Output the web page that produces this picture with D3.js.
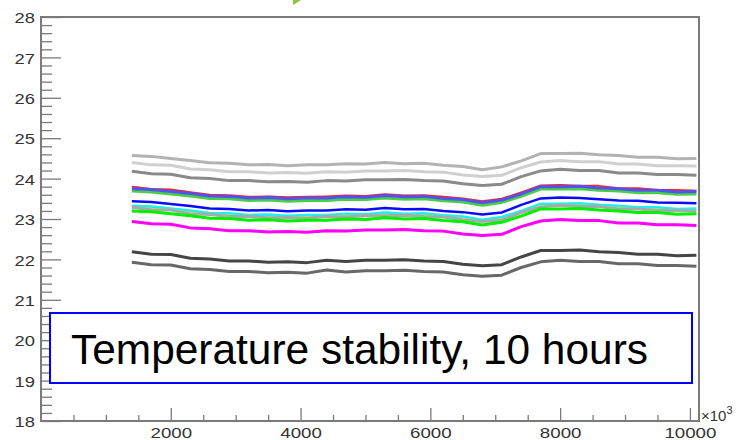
<!DOCTYPE html>
<html><head><meta charset="utf-8">
<script src="https://cdn.jsdelivr.net/npm/d3@7"></script>
<style>
html,body{margin:0;padding:0;background:#fff;}
svg{display:block;font-family:"Liberation Sans",Arial,Helvetica,sans-serif;}
</style></head>
<body><svg id="c" width="742" height="440"></svg>
<script>
// time axis (seconds), shown with a x10^3 multiplier
const timeX = [1400,1700,2000,2300,2600,2900,3200,3500,3800,4100,4400,4700,5000,5300,5600,5900,6200,6500,6800,7100,7400,7700,8000,8300,8600,8900,9200,9500,9800,10100];

const sLightGray = [24.57,24.55,24.50,24.45,24.39,24.38,24.34,24.35,24.32,24.34,24.34,24.37,24.36,24.40,24.37,24.38,24.33,24.30,24.22,24.29,24.44,24.62,24.62,24.63,24.59,24.57,24.53,24.53,24.49,24.50];
const sPaleGray  = [24.40,24.34,24.33,24.24,24.22,24.17,24.17,24.14,24.15,24.13,24.17,24.16,24.19,24.19,24.20,24.17,24.16,24.09,24.05,24.08,24.27,24.41,24.45,24.42,24.42,24.36,24.36,24.32,24.32,24.31];
const sMidGray   = [24.18,24.12,24.11,24.02,24.00,23.95,23.95,23.92,23.93,23.91,23.95,23.94,23.97,23.97,23.98,23.95,23.94,23.87,23.83,23.86,24.05,24.19,24.23,24.20,24.20,24.14,24.14,24.10,24.10,24.08];
const sRed       = [23.80,23.74,23.73,23.66,23.60,23.59,23.55,23.56,23.54,23.55,23.56,23.58,23.57,23.61,23.58,23.59,23.55,23.51,23.44,23.50,23.66,23.83,23.84,23.82,23.82,23.76,23.76,23.72,23.72,23.70];
const sGreenA    = [23.69,23.67,23.62,23.57,23.51,23.50,23.46,23.47,23.44,23.46,23.46,23.49,23.48,23.52,23.49,23.50,23.45,23.42,23.34,23.41,23.56,23.74,23.74,23.75,23.71,23.69,23.65,23.65,23.61,23.62];
const sViolet    = [23.75,23.73,23.68,23.63,23.57,23.56,23.52,23.53,23.50,23.52,23.52,23.55,23.54,23.58,23.55,23.56,23.51,23.48,23.40,23.47,23.62,23.80,23.80,23.81,23.77,23.75,23.71,23.71,23.67,23.68];
const sBlue      = [23.44,23.42,23.37,23.32,23.26,23.25,23.21,23.22,23.19,23.21,23.21,23.24,23.23,23.27,23.24,23.25,23.20,23.17,23.11,23.16,23.35,23.51,23.53,23.52,23.49,23.46,23.45,23.41,23.40,23.39];
const sYellow    = [23.31,23.29,23.24,23.19,23.13,23.12,23.08,23.09,23.06,23.08,23.08,23.11,23.10,23.14,23.11,23.12,23.07,23.04,22.96,23.03,23.18,23.36,23.36,23.37,23.33,23.31,23.27,23.27,23.23,23.24];
const sCyan      = [23.33,23.31,23.26,23.21,23.15,23.14,23.10,23.11,23.08,23.10,23.10,23.13,23.12,23.16,23.13,23.14,23.09,23.06,22.98,23.05,23.20,23.38,23.38,23.39,23.35,23.33,23.29,23.29,23.25,23.26];
const sGrayB     = [23.29,23.23,23.22,23.13,23.11,23.06,23.06,23.03,23.04,23.02,23.06,23.05,23.08,23.08,23.09,23.06,23.05,22.98,22.94,22.97,23.16,23.30,23.34,23.31,23.31,23.25,23.25,23.21,23.21,23.19];
const sGreenB    = [23.20,23.18,23.13,23.08,23.02,23.01,22.97,22.98,22.95,22.97,22.97,23.00,22.99,23.03,23.00,23.01,22.96,22.93,22.85,22.92,23.07,23.25,23.25,23.26,23.22,23.20,23.16,23.16,23.12,23.13];
const sMagenta   = [22.94,22.88,22.87,22.78,22.76,22.71,22.71,22.68,22.69,22.67,22.71,22.70,22.73,22.73,22.74,22.71,22.70,22.63,22.59,22.62,22.81,22.95,22.99,22.96,22.96,22.90,22.90,22.86,22.86,22.84];
const sDarkA     = [22.19,22.13,22.12,22.03,22.01,21.96,21.96,21.93,21.94,21.92,21.98,21.95,21.98,21.98,21.99,21.96,21.95,21.88,21.84,21.87,22.06,22.22,22.22,22.23,22.19,22.17,22.13,22.13,22.09,22.10];
const sDarkB     = [21.93,21.87,21.86,21.77,21.75,21.70,21.70,21.67,21.68,21.66,21.74,21.69,21.72,21.72,21.73,21.70,21.69,21.62,21.58,21.61,21.80,21.94,21.98,21.95,21.95,21.89,21.89,21.85,21.85,21.83];

const seriesList = [
  {v: sLightGray, c: "#b3b3b3", w: 3},
  {v: sPaleGray,  c: "#d0d0d0", w: 3},
  {v: sMidGray,   c: "#8a8a8a", w: 3},
  {v: sRed,       c: "#ff2020", w: 2},
  {v: sGreenA,    c: "#45d045", w: 3},
  {v: sViolet,    c: "#5252ee", w: 3},
  {v: sBlue,      c: "#0a0aff", w: 2.5},
  {v: sYellow,    c: "#f2f200", w: 2.5},
  {v: sCyan,      c: "#22eeee", w: 2.5},
  {v: sGrayB,     c: "#a9a9a9", w: 3},
  {v: sGreenB,    c: "#00f000", w: 3},
  {v: sMagenta,   c: "#ff00ff", w: 3},
  {v: sDarkA,     c: "#454545", w: 3},
  {v: sDarkB,     c: "#686868", w: 3}
];

const xMajorTicks = [2000,4000,6000,8000,10000];
const yMajorTicks = [18,19,20,21,22,23,24,25,26,27,28];
const titleText = "Temperature stability, 10 hours";

const svg = d3.select("#c");
const L = 41, R = 699, T = 17, B = 421;
const x = d3.scaleLinear().domain([0, 10140]).range([L, R]);
const y = d3.scaleLinear().domain([18, 28]).range([B, T]);
const axisColor = "#7a7a7a";

svg.append("rect").attr("width",742).attr("height",440).attr("fill","#fff");

// small green arrow tip at the top (cut off)
svg.append("polygon").attr("points","293,0 301,0 293,5").attr("fill","#8cc63f");

svg.append("clipPath").attr("id","clip").append("rect")
  .attr("x",L).attr("y",T).attr("width",R-L).attr("height",B-T);

const line = d3.line().x((d,i)=>x(timeX[i])).y(d=>y(d)).curve(d3.curveLinear);
const gl = svg.append("g").attr("clip-path","url(#clip)");
seriesList.forEach(s=>{
  gl.append("path").attr("d", line(s.v)).attr("fill","none")
    .attr("stroke", s.c).attr("stroke-width", s.w).attr("stroke-linejoin","round");
});

// minor ticks
const yMinor = d3.range(18, 28.001, 0.2).filter(v=>Math.abs(v-Math.round(v))>1e-6);
svg.append("g").attr("transform",`translate(${L},0)`)
  .call(d3.axisLeft(y).tickValues(yMinor).tickSizeInner(-11).tickSizeOuter(0).tickFormat(""))
  .call(g=>{g.select(".domain").remove(); g.selectAll("line").attr("stroke",axisColor).attr("stroke-width",1.3);});
const xMinor = d3.range(500, 10140, 500).filter(v=>v%2000!==0);
svg.append("g").attr("transform",`translate(0,${B})`)
  .call(d3.axisBottom(x).tickValues(xMinor).tickSizeInner(-6).tickSizeOuter(0).tickFormat(""))
  .call(g=>{g.select(".domain").remove(); g.selectAll("line").attr("stroke",axisColor).attr("stroke-width",1.3);});

// major axes
const ya = svg.append("g").attr("transform",`translate(${L},0)`)
  .call(d3.axisLeft(y).tickValues(yMajorTicks).tickSizeInner(-20).tickSizeOuter(0).tickPadding(6).tickFormat(d3.format("d")));
ya.select(".domain").remove();
ya.selectAll("line").attr("stroke",axisColor).attr("stroke-width",1.3);
ya.selectAll("text").attr("font-size",15).attr("fill","#333").attr("font-family","Liberation Sans, Arial, sans-serif")
  .attr("dy","0.38em")
  .attr("textLength", d=>String(d).length*10.2).attr("lengthAdjust","spacingAndGlyphs");

const xa = svg.append("g").attr("transform",`translate(0,${B})`)
  .call(d3.axisBottom(x).tickValues(xMajorTicks).tickSizeInner(-13).tickSizeOuter(0).tickPadding(6).tickFormat(d3.format("d")));
xa.select(".domain").remove();
xa.selectAll("line").attr("stroke",axisColor).attr("stroke-width",1.3);
xa.selectAll("text").attr("font-size",15).attr("fill","#333").attr("font-family","Liberation Sans, Arial, sans-serif")
  .attr("textLength", d=>String(d).length*10.4).attr("lengthAdjust","spacingAndGlyphs");

// frame
svg.append("rect").attr("x",L).attr("y",T).attr("width",R-L).attr("height",B-T)
  .attr("fill","none").attr("stroke",axisColor).attr("stroke-width",2);

// exponent label
const ex = svg.append("text").attr("x",701).attr("y",421).attr("font-size",15).attr("fill","#333");
ex.append("tspan").text("×10");
ex.append("tspan").attr("font-size",11).attr("dy",-7).text("3");

// title box
svg.append("rect").attr("x",50).attr("y",313).attr("width",642).attr("height",70)
  .attr("fill","#fff").attr("stroke","#0000ff").attr("stroke-width",2);
svg.append("text").attr("x",71).attr("y",364).attr("font-size",42).attr("fill","#000")
  .attr("textLength",577).attr("lengthAdjust","spacingAndGlyphs").text(titleText);
</script></body></html>
